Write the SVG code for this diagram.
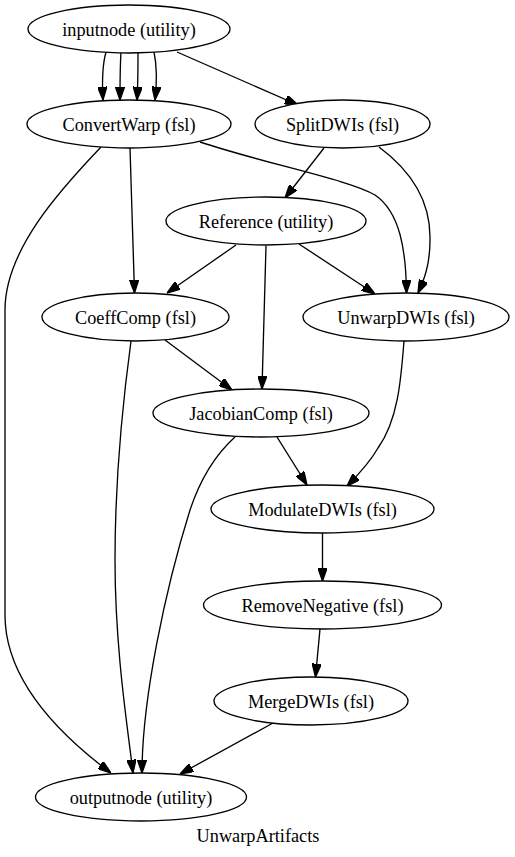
<svg xmlns="http://www.w3.org/2000/svg" width="515" height="857" viewBox="0 0 515 857">
<style>
  .node ellipse { fill: #ffffff; stroke: #000000; stroke-width: 1.33; }
  .node text, .title { font-family: "Liberation Serif", "Times New Roman", serif; font-size: 18.3px; fill: #000000; text-anchor: middle; }
  .edge { fill: none; stroke: #000000; stroke-width: 1.33; marker-end: url(#arrow); }
</style>
<defs>
  <marker id="arrow" viewBox="0 0 10 7" refX="10" refY="3.5" markerWidth="13.3" markerHeight="9.3" markerUnits="userSpaceOnUse" orient="auto">
    <path d="M0,0 L10,3.5 L0,7 Z" fill="#000000" stroke="#000000" stroke-width="1"/>
  </marker>
</defs>
<rect x="0" y="0" width="515" height="857" fill="#ffffff"/>
<g id="connectors">
  <path class="edge" d="M106,52 C102,66 102,82 103,100"/>
  <path class="edge" d="M121,52 C120,68 120,84 120,100"/>
  <path class="edge" d="M138,52 C138,68 138,84 137,100"/>
  <path class="edge" d="M154,52 C157,66 157,82 155,100"/>
  <path class="edge" d="M177,52 L298,105"/>
  <path class="edge" d="M130,148 L134.5,293"/>
  <path class="edge" d="M101,147 C60,190 5,250 5,310 L5,615 C5,680 60,735 111,773"/>
  <path class="edge" d="M200,142 C270,165 350,180 375,195 C400,212 406,250 406.5,293"/>
  <path class="edge" d="M324,148 L285,198"/>
  <path class="edge" d="M379,147 C410,170 431,200 430,240 C430,265 424,280 418,293"/>
  <path class="edge" d="M236,245 L167,293"/>
  <path class="edge" d="M266,246 L262,389"/>
  <path class="edge" d="M299,244 L375,294"/>
  <path class="edge" d="M165,340 L232,390"/>
  <path class="edge" d="M131,341 C123,400 115,480 115,560 C115,650 128,730 133,773"/>
  <path class="edge" d="M235,437 C215,455 200,480 190,510 C165,590 142,700 142,773"/>
  <path class="edge" d="M277,437 L307,485"/>
  <path class="edge" d="M404,341 C401,380 398,420 378,448 C370,462 358,475 347,486"/>
  <path class="edge" d="M322.5,533 L322.5,581"/>
  <path class="edge" d="M320,629 L315.5,677"/>
  <path class="edge" d="M273,723 L180,774"/>
</g>
<g id="inputnode" class="node"><ellipse cx="129" cy="29" rx="101" ry="24"/><text x="129" y="35.5">inputnode (utility)</text></g>
<g id="ConvertWarp" class="node"><ellipse cx="129" cy="124" rx="102" ry="24"/><text x="129" y="130.5">ConvertWarp (fsl)</text></g>
<g id="SplitDWIs" class="node"><ellipse cx="342.5" cy="124" rx="87.5" ry="24"/><text x="342.5" y="130.5">SplitDWIs (fsl)</text></g>
<g id="Reference" class="node"><ellipse cx="266" cy="221" rx="100" ry="24"/><text x="266" y="227.5">Reference (utility)</text></g>
<g id="CoeffComp" class="node"><ellipse cx="135.5" cy="317" rx="93.5" ry="24"/><text x="135.5" y="323.5">CoeffComp (fsl)</text></g>
<g id="UnwarpDWIs" class="node"><ellipse cx="406" cy="317" rx="103" ry="24"/><text x="406" y="323.5">UnwarpDWIs (fsl)</text></g>
<g id="JacobianComp" class="node"><ellipse cx="261" cy="413" rx="108" ry="24"/><text x="261" y="419.5">JacobianComp (fsl)</text></g>
<g id="ModulateDWIs" class="node"><ellipse cx="322.5" cy="509" rx="111.5" ry="24"/><text x="322.5" y="515.5">ModulateDWIs (fsl)</text></g>
<g id="RemoveNegative" class="node"><ellipse cx="322.5" cy="605" rx="119" ry="24"/><text x="322.5" y="611.5">RemoveNegative (fsl)</text></g>
<g id="MergeDWIs" class="node"><ellipse cx="311" cy="701" rx="97" ry="24"/><text x="311" y="707.5">MergeDWIs (fsl)</text></g>
<g id="outputnode" class="node"><ellipse cx="141" cy="797" rx="105.5" ry="24"/><text x="141" y="803.5">outputnode (utility)</text></g>
<text class="title" x="258" y="842">UnwarpArtifacts</text>
</svg>
